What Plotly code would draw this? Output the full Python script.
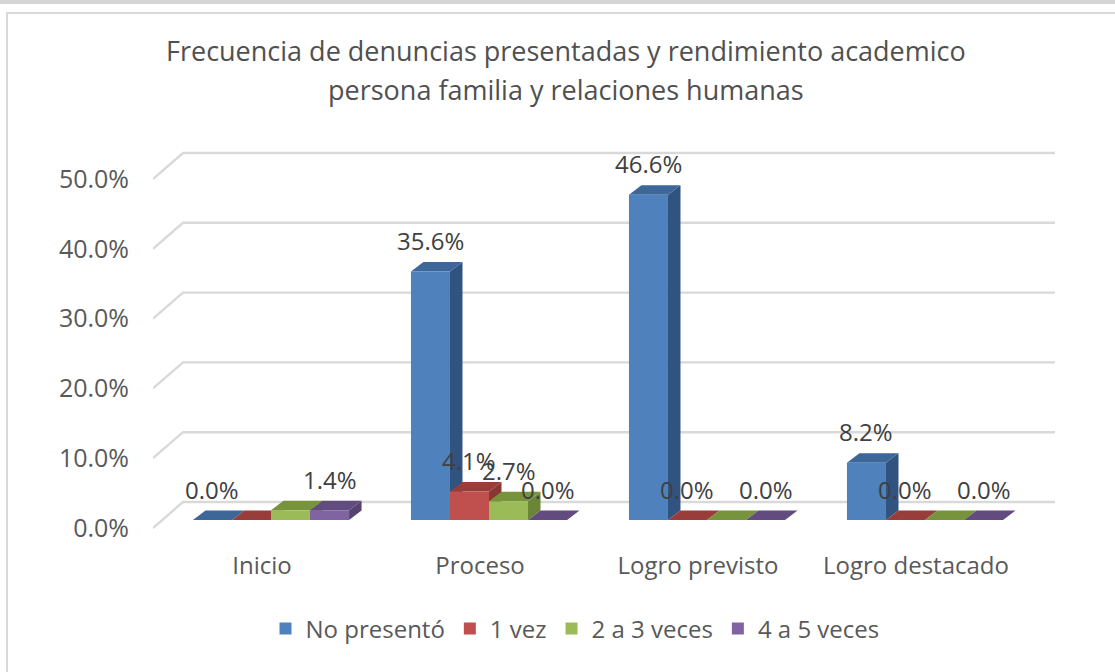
import plotly.graph_objects as go

# ---------------- data ----------------
categories = ["Inicio", "Proceso", "Logro previsto", "Logro destacado"]
series_names = ["No presentó", "1 vez", "2 a 3 veces", "4 a 5 veces"]
no_presento = [0.000, 0.356, 0.466, 0.082]
una_vez = [0.000, 0.041, 0.000, 0.000]
dos_a_tres = [0.014, 0.027, 0.000, 0.000]
cuatro_a_cinco = [0.014, 0.000, 0.000, 0.000]
# which data labels are shown in the original chart
label_no_presento = [True, True, True, True]
label_una_vez = [False, True, True, True]
label_dos_a_tres = [False, True, False, False]
label_cuatro_a_cinco = [True, True, True, True]
y_ticks = [0.0, 0.1, 0.2, 0.3, 0.4, 0.5]
title_lines = ["Frecuencia de denuncias presentadas y rendimiento academico",
               "persona familia y relaciones humanas"]

series_values = [no_presento, una_vez, dos_a_tres, cuatro_a_cinco]
series_labels = [label_no_presento, label_una_vez, label_dos_a_tres,
                 label_cuatro_a_cinco]
front_colors = ["#4F81BD", "#C0504D", "#9BBB59", "#8064A2"]
top_colors = ["#3D6699", "#983D3A", "#77933C", "#624B7E"]
side_colors = ["#30537F", "#8A3734", "#6B8537", "#574370"]

# ---------------- geometry (pixels) ----------------
W, H = 1115, 672
PL, PR, PT, PB = 153, 1060, 150, 530        # plot area
PX_CAT = 218.0                               # pixels per category
PX_UNIT = 698.0                              # pixels per 100 %
ZERO_FRONT = 528.0                           # pixel of 0 % in front plane
BAR_SHIFT_X, BAR_SHIFT_Y = 9.0, 8.0          # bar plane offset vs front plane
BAR_DX, BAR_DY = 12.5, 9.5                   # bar depth
WALL_DX, WALL_DY = 30.0, 26.0                # back wall offset
FONT = "Open Sans"

x_lo = -0.5
x_hi = x_lo + (PR - PL) / PX_CAT
y_lo = (ZERO_FRONT - PB) / PX_UNIT
y_hi = (ZERO_FRONT - PT) / PX_UNIT
bsx = BAR_SHIFT_X / PX_CAT
bsy = BAR_SHIFT_Y / PX_UNIT

bargap = 0.284
n_series = len(series_values)
bar_w = (1 - bargap) / n_series
ddx = BAR_DX / PX_CAT
ddy = BAR_DY / PX_UNIT

fig = go.Figure()

for name, vals, col in zip(series_names, series_values, front_colors):
    fig.add_trace(go.Bar(
        x=list(range(len(categories))), y=vals, name=name,
        marker=dict(color=col, line=dict(width=0)),
        xaxis="x2", yaxis="y2", hoverinfo="skip",
    ))

shapes = []
# back wall gridlines
wdx = WALL_DX / PX_CAT
wdy = WALL_DY / PX_UNIT
for v in y_ticks:
    shapes.append(dict(
        type="path", xref="x", yref="y", layer="below",
        path=f"M {x_lo},{v} L {x_lo + wdx},{v + wdy} L {3.5 + wdx},{v + wdy}",
        line=dict(color="#D9D9D9", width=2.4),
    ))

annotations = []
for i in range(len(categories)):
    for k, vals in enumerate(series_values):
        v = vals[i]
        xl = i - (1 - bargap) / 2 + k * bar_w
        xr = xl + bar_w
        # side face
        shapes.append(dict(
            type="path", xref="x2", yref="y2", layer="below",
            path=(f"M {xr},0 L {xr},{v} L {xr + ddx},{v + ddy} "
                  f"L {xr + ddx},{ddy} Z"),
            fillcolor=side_colors[k], line=dict(width=0),
        ))
        # top face
        shapes.append(dict(
            type="path", xref="x2", yref="y2", layer="below",
            path=(f"M {xl},{v} L {xr},{v} L {xr + ddx},{v + ddy} "
                  f"L {xl + ddx},{v + ddy} Z"),
            fillcolor=top_colors[k], line=dict(width=0),
        ))
        if series_labels[k][i]:
            annotations.append(dict(
                x=(xl + xr) / 2, y=v, xref="x2", yref="y2",
                text=f"{v * 100:.1f}%", showarrow=False,
                xanchor="center", yanchor="bottom", yshift=BAR_DY + 3,
                font=dict(family=FONT, size=24, color="#404040"),
            ))

# title (two lines)
for line, py in zip(title_lines, [50, 90]):
    annotations.append(dict(
        x=(565.5 - PL) / (PR - PL), y=(PB - py) / (PB - PT),
        xref="paper", yref="paper", text=line, showarrow=False,
        xanchor="center", yanchor="middle",
        font=dict(family=FONT, size=27, color="#505050"),
    ))

# chart border
shapes.append(dict(
    type="path", xref="paper", yref="paper", layer="below",
    path=(f"M {(7 - PL) / (PR - PL)},{(PB - 700) / (PB - PT)} "
          f"L {(7 - PL) / (PR - PL)},{(PB - 13) / (PB - PT)} "
          f"L {(1130 - PL) / (PR - PL)},{(PB - 13) / (PB - PT)}"),
    line=dict(color="#D9D9D9", width=2),
))
shapes.append(dict(
    type="rect", xref="paper", yref="paper", layer="below",
    x0=(0 - PL) / (PR - PL), x1=(1130 - PL) / (PR - PL),
    y0=(PB - 0) / (PB - PT), y1=(PB - 4) / (PB - PT),
    fillcolor="#D4D4D4", line=dict(width=0),
))

fig.update_layout(
    width=W, height=H,
    margin=dict(l=PL, r=W - PR, t=PT, b=H - PB, pad=0),
    paper_bgcolor="white", plot_bgcolor="white",
    barmode="group", bargap=bargap, bargroupgap=0,
    showlegend=True,
    legend=dict(
        orientation="h", x=(575 - PL) / (PR - PL), xanchor="center",
        y=(PB - 629) / (PB - PT), yanchor="middle",
        font=dict(family=FONT, size=24, color="#595959"),
        itemwidth=30, traceorder="normal",
    ),
    xaxis=dict(
        range=[x_lo, x_hi], tickmode="array",
        tickvals=list(range(len(categories))), ticktext=categories,
        showgrid=False, zeroline=False, showline=False,
        ticks="outside", ticklen=14, tickcolor="rgba(0,0,0,0)",
        tickfont=dict(family=FONT, size=24, color="#595959"),
        fixedrange=True,
    ),
    yaxis=dict(
        range=[y_lo, y_hi], tickmode="array", tickvals=y_ticks,
        tickformat=".1%", showgrid=False, zeroline=False, showline=False,
        ticks="outside", ticklen=18, tickcolor="rgba(0,0,0,0)",
        tickfont=dict(family=FONT, size=25, color="#595959"),
        fixedrange=True,
    ),
    xaxis2=dict(
        range=[x_lo - bsx, x_hi - bsx], overlaying="x", anchor="y2",
        visible=False, fixedrange=True,
    ),
    yaxis2=dict(
        range=[y_lo - bsy, y_hi - bsy], overlaying="y", anchor="x2",
        visible=False, fixedrange=True,
    ),
    shapes=shapes,
    annotations=annotations,
)

fig.write_html("out.html",
               config={"displayModeBar": False, "staticPlot": True},
               post_script="document.body.style.margin='0px';"
                           "document.body.style.overflow='hidden';")
